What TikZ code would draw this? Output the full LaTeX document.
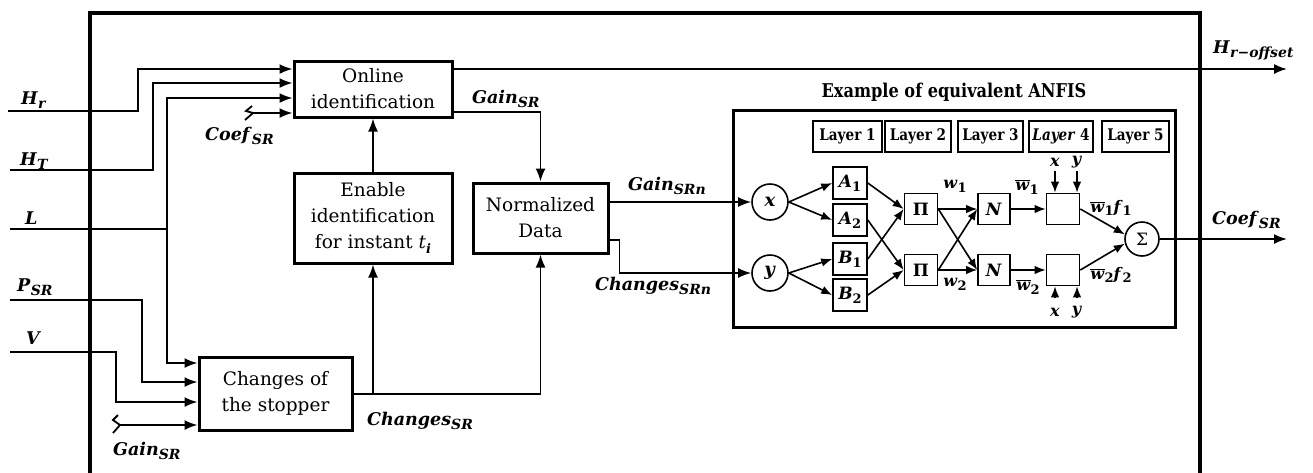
\documentclass[tikz,border=0pt]{standalone}
\usepackage{fontspec}
\setmainfont{DejaVu Serif}
\newfontfamily\narrowserif{DejaVu Serif}[FakeStretch=0.85]
\usetikzlibrary{arrows.meta,calc}

% bold italic variable and lowered subscript
\newcommand{\bi}[1]{\textbf{\textit{#1}}}
\newcommand{\lo}[2][14]{\raisebox{-0.45ex}{\fontsize{#1}{#1}\selectfont\bfseries #2}}
\newcommand{\wbar}{$\overline{\hbox{\bi{w}}}$}

\tikzset{
  frame/.style={line width=3.4pt},
  blk/.style={draw, line width=3pt, inner sep=0pt, align=center,
    font=\fontsize{18.5}{26}\selectfont},
  conn/.style={line width=1.8pt},
  arr/.style={conn, -{Latex[length=13pt,width=10pt]}},
  sarr/.style={line width=1.6pt, -{Latex[length=11pt,width=8.5pt]}},
  lab/.style={inner sep=0pt, anchor=base west, font=\fontsize{17.5}{17.5}\selectfont},
  slab/.style={inner sep=0pt, font=\fontsize{16}{16}\selectfont},
  cell/.style={draw, line width=1.6pt, minimum width=34pt, minimum height=32pt,
    inner sep=0pt, font=\fontsize{17}{17}\selectfont},
  ring/.style={draw, circle, line width=1.6pt, minimum size=36pt, inner sep=0pt,
    font=\fontsize{18}{18}\selectfont},
  layer/.style={draw, line width=1.6pt, minimum height=31pt, inner sep=0pt,
    font=\narrowserif\fontsize{16}{16}\selectfont\bfseries},
}

\begin{document}
\begin{tikzpicture}[x=1pt,y=-1pt]
\useasboundingbox (0,0) rectangle (1313,472);

% outer system frame
\draw[frame] (90,474) -- (90,13) -- (1200,13) -- (1200,474);

% main blocks
\node[blk, minimum width=158pt, minimum height=56pt] (online) at (373,89) {Online\\identification};
\node[blk, minimum width=158pt, minimum height=90pt] (enable) at (373,218) {Enable\\identification\\for instant \textit{t}\lo[13]{\itshape i}};
\node[blk, minimum width=135pt, minimum height=70pt] (norm) at (540.5,218) {Normalized\\Data};
\node[blk, minimum width=153pt, minimum height=73pt] (changes) at (275.5,393.5) {Changes of\\the stopper};

% input starts and arrival rows
\coordinate (inHr) at (8,111);
\coordinate (inHt) at (10,170);
\coordinate (inL)  at (10,229);
\coordinate (inP)  at (10,300);
\coordinate (inV)  at (10,352);
\coordinate (inG)  at (120,425);
\coordinate (inC)  at (253,113);
\coordinate (o1) at (0,69);
\coordinate (o2) at (0,83);
\coordinate (o3) at (0,98);
\coordinate (o4) at (0,113);
\coordinate (c1) at (0,363);
\coordinate (c2) at (0,382);
\coordinate (c3) at (0,402);
\coordinate (c4) at (0,425);

% input labels
\node[lab] at (21,104) {\bi{H}\lo{\itshape r}};
\node[lab] at (20,165) {\bi{H}\lo{\itshape T}};
\node[lab] at (25,224) {\bi{L}};
\node[lab] at (17,291) {\bi{P}\lo{\itshape SR}};
\node[lab] at (26,344) {\bi{V}};

% input connectors
\draw[arr] (inHr) -- ++(130,0) |- (online.west |- o1);
\draw[arr] (inHt) -- ++(143,0) |- (online.west |- o2);
\draw[arr] (inL) -- ++(157,0) coordinate (lj) |- (online.west |- o3);
\draw[arr] (lj) |- (changes.west |- c1);
\draw[arr] (inP) -- ++(132,0) |- (changes.west |- c2);
\draw[arr] (inV) -- ++(106,0) |- (changes.west |- c3);

% fed-back inputs with break marks
\draw[conn] (252,106) -- (246,111) -- (inC) -- (245,120);
\draw[arr] (inC) -- (online.west |- o4);
\node[lab] at (205,140) {\bi{Coef}\lo{\itshape SR}};
\draw[conn] (118,415) -- (113,420) -- (inG) -- (113,433);
\draw[arr] (inG) -- (changes.west |- c4);
\node[lab] at (113,455) {\bi{Gain}\lo{\itshape SR}};

% block-to-block connectors
\coordinate (hoff) at (1287,69);
\draw[arr] (online.east |- hoff) -- (hoff);
\node[lab] at (1213,53) {\bi{H}\lo{\itshape r−offset}};

\coordinate (g1) at (0,112);
\draw[arr] (online.east |- g1) -| (norm.north);
\node[lab] at (472,103) {\bi{Gain}\lo{\itshape SR}};

\draw[arr] (enable.north) -- (online.south);

\coordinate (ch) at (0,394);
\draw[arr] (changes.east |- ch) -| (norm.south);
\draw[arr] (enable.south |- ch) -- (enable.south);
\node[lab] at (367,425) {\bi{Changes}\lo{\itshape SR}};

% ANFIS example
\node[font=\narrowserif\fontsize{19}{19}\selectfont\bfseries, inner sep=0pt] at (954,92) {Example of equivalent ANFIS};
\node[draw, line width=3pt, minimum width=442pt, minimum height=217pt] (anfis) at (954,218.5) {};

\node[layer, minimum width=69pt] (l1) at (847.5,136.5) {Layer 1};
\node[layer, minimum width=66pt] (l2) at (918,136.5) {Layer 2};
\node[layer, minimum width=65pt] (l3) at (990.5,136.5) {Layer 3};
\node[layer, minimum width=64pt] (l4) at (1061,136.5) {\textit{Layer} 4};
\node[layer, minimum width=67pt] (l5) at (1135.5,136.5) {Layer 5};

\node[ring] (cx) at (770,202) {\bi{x}};
\node[ring] (cy) at (770,273) {\bi{y}};

\node[cell] (a1) at (850,183) {\bi{A}\lo[13]{1}};
\node[cell] (a2) at (850,220) {\bi{A}\lo[13]{2}};
\node[cell] (b1) at (850,259) {\bi{B}\lo[13]{1}};
\node[cell] (b2) at (850,295) {\bi{B}\lo[13]{2}};

\node[cell, minimum width=33pt, minimum height=31pt] (p1) at (921,209) {\textbf{Π}};
\node[cell, minimum width=33pt, minimum height=31pt] (p2) at (921,270) {\textbf{Π}};
\node[cell, minimum width=32pt, minimum height=31pt] (n1) at (994,209) {\bi{N}};
\node[cell, minimum width=32pt, minimum height=31pt] (n2) at (994,270) {\bi{N}};
\node[cell, minimum width=33pt, minimum height=31pt] (f1) at (1063,209) {};
\node[cell, minimum width=33pt, minimum height=31pt] (f2) at (1063,270) {};
\node[ring, minimum size=34pt, font=\fontsize{17}{17}\selectfont] (sum) at (1142,239) {Σ};

% normalized data into the network
\draw[arr] (norm.east |- cx) -- (cx.west);
\node[lab] at (628,190) {\bi{Gain}\lo{\itshape SRn}};
\coordinate (n2row) at (0,240);
\draw[arr] (norm.east |- n2row) -- ++(10,0) |- (cy.west);
\node[lab] at (595,290) {\bi{Changes}\lo{\itshape SRn}};

% network links
\draw[sarr] (cx.east) -- (a1.west);
\draw[sarr] (cx.east) -- (a2.west);
\draw[sarr] (cy.east) -- (b1.west);
\draw[sarr] (cy.east) -- (b2.west);
\draw[sarr] (a1.east) -- (p1.west);
\draw[sarr] (b1.east) -- (p1.west);
\draw[sarr] (a2.east) -- (p2.west);
\draw[sarr] (b2.east) -- (p2.west);
\draw[sarr] (p1.east) -- (n1.west);
\draw[sarr] (p1.east) -- (n2.west);
\draw[sarr] (p2.east) -- (n1.west);
\draw[sarr] (p2.east) -- (n2.west);
\draw[sarr] (n1.east) -- (f1.west);
\draw[sarr] (n2.east) -- (f2.west);
\draw[sarr] (f1.east) -- (sum.165);
\draw[sarr] (f2.east) -- (sum.195);

\node[slab] at (955,186) {\bi{w}\lo[13]{1}};
\node[slab] at (955,284) {\bi{w}\lo[13]{2}};
\node[slab] at (1027,187) {\wbar\lo[13]{1}};
\node[slab] at (1028,287) {\wbar\lo[13]{2}};
\node[slab] at (1111,208) {\wbar\lo[13]{1}\bi{f}\lo[13]{1}};
\node[slab] at (1111,275) {\wbar\lo[13]{2}\bi{f}\lo[13]{2}};

% consequent inputs
\coordinate (tx) at (1055,171);
\coordinate (ty) at (1077,171);
\coordinate (bx) at (1055,298);
\coordinate (by) at (1077,298);
\draw[sarr] (tx) -- (tx |- f1.north);
\draw[sarr] (ty) -- (ty |- f1.north);
\draw[sarr] (bx) -- (bx |- f2.south);
\draw[sarr] (by) -- (by |- f2.south);
\node[slab] at (1055,162) {\bi{x}};
\node[slab] at (1077,162) {\bi{y}};
\node[slab] at (1055,312) {\bi{x}};
\node[slab] at (1077,312) {\bi{y}};

% network output
\coordinate (cout) at (1287,239);
\draw[arr] (sum.east) -- (cout);
\node[lab] at (1212,224) {\bi{Coef}\lo{\itshape SR}};
\end{tikzpicture}
\end{document}
